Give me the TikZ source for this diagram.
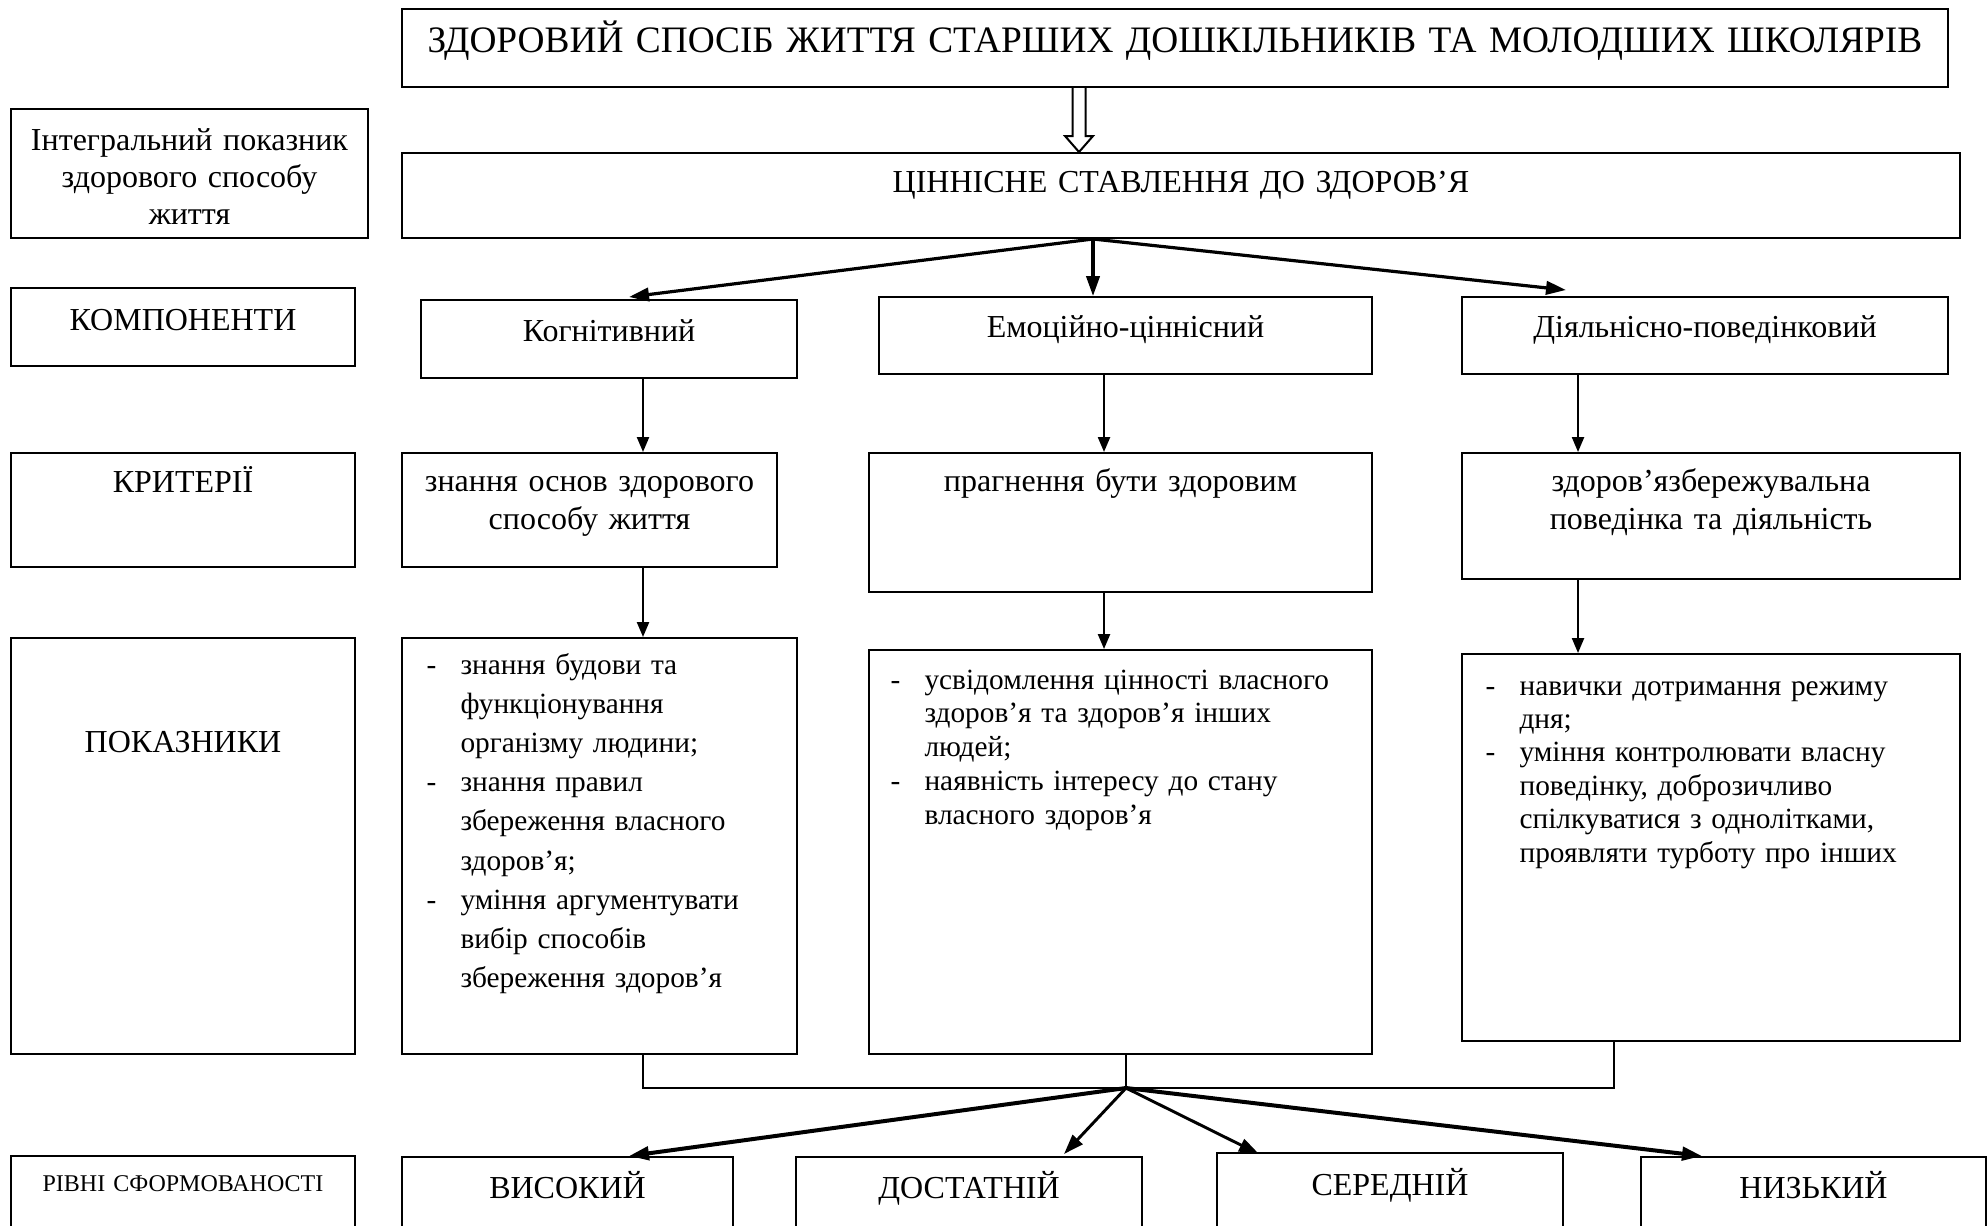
\documentclass[tikz,border=0pt]{standalone}
\usepackage{fontspec}
\setmainfont{Liberation Serif}
\usetikzlibrary{arrows.meta,calc,fit}

\newcommand{\itm}{\makebox[12.75pt][l]{-}}
\newcommand{\cnt}{\hspace*{12.75pt}}

\begin{document}
\begin{tikzpicture}[
  x=0.375pt, y=-0.375pt,
  box/.style={draw=black, line width=0.75pt, inner sep=0pt},
  txt/.style={anchor=base, inner sep=0pt, align=center,
    font=\fontsize{12}{14.25}\selectfont},
  head/.style={txt, font=\fontsize{14}{16}\selectfont, text width=590pt},
  small/.style={txt, font=\fontsize{9}{11}\selectfont},
  lst/.style={anchor=base west, inner sep=0pt, align=left},
  fan/.style={-{Triangle[length=7.5pt, width=5pt]}, line width=1.2pt},
  fanthick/.style={fan, line width=1.5pt},
  down/.style={-{Triangle[length=5.6pt, width=4.5pt]}, line width=0.8pt},
  gather/.style={line width=0.6pt},
  hollow/.style={draw=black, line width=0.75pt, fill=white, line join=miter}
]
  \useasboundingbox (0,0) rectangle (1988,1225);
  \clip (0,0) rectangle (1988,1225);

  % top boxes
  \node[box, fit={(402,9) (1948,87)}] (title) {};
  \node[head] (title-t) at ($(title.north)+(0,44)$)
    {ЗДОРОВИЙ СПОСІБ ЖИТТЯ СТАРШИХ ДОШКІЛЬНИКІВ ТА МОЛОДШИХ ШКОЛЯРІВ};
  \node[box, fit={(402,153) (1960,238)}] (value) {};
  \node[txt, text width=500pt] (value-t) at ($(value.north)+(0,40)$)
    {ЦІННІСНЕ СТАВЛЕННЯ ДО ЗДОРОВ’Я};

  % left column
  \node[box, fit={(11,109) (368,238)}] (integral) {};
  \node[txt, font=\fontsize{12}{13.8}\selectfont, text width=130pt] (integral-t)
    at ($(integral.north)+(0,42.5)$) {Інтегральний показник\\здорового способу\\життя};
  \node[box, fit={(11,288) (355,366)}] (complbl) {};
  \node[txt, text width=125pt] (complbl-t) at ($(complbl.north)+(0,43)$) {КОМПОНЕНТИ};
  \node[box, fit={(11,453) (355,567)}] (critlbl) {};
  \node[txt, text width=125pt] (critlbl-t) at ($(critlbl.north)+(0,40)$) {КРИТЕРІЇ};
  \node[box, fit={(11,638) (355,1054)}] (indlbl) {};
  \node[txt, text width=125pt] (indlbl-t) at ($(indlbl.north)+(0,115)$) {ПОКАЗНИКИ};
  \node[box, fit={(11,1156) (355,1260)}] (lvllbl) {};
  \node[small, text width=125pt] (lvllbl-t) at ($(lvllbl.north)+(0,36)$) {РІВНІ СФОРМОВАНОСТІ};

  % components
  \node[box, fit={(421,300) (797,378)}] (cog) {};
  \node[txt, text width=135pt] (cog-t) at ($(cog.north)+(0,42)$) {Когнітивний};
  \node[box, fit={(879,297) (1372,374)}] (emo) {};
  \node[txt, text width=180pt] (emo-t) at ($(emo.north)+(0,41)$) {Емоційно-ціннісний};
  \node[box, fit={(1462,297) (1948,374)}] (act) {};
  \node[txt, text width=180pt] (act-t) at ($(act.north)+(0,41)$) {Діяльнісно-поведінковий};

  % criteria
  \node[box, fit={(402,453) (777,567)}] (crit1) {};
  \node[txt, text width=138pt] (crit1-t) at ($(crit1.north)+(0,39)$)
    {знання основ здорового\\способу життя};
  \node[box, fit={(869,453) (1372,592)}] (crit2) {};
  \node[txt, text width=185pt] (crit2-t) at ($(crit2.north)+(0,39)$) {прагнення бути здоровим};
  \node[box, fit={(1462,453) (1960,579)}] (crit3) {};
  \node[txt, text width=185pt] (crit3-t) at ($(crit3.north)+(0,39)$)
    {здоров’язбережувальна\\поведінка та діяльність};

  % indicators
  \node[box, fit={(402,638) (797,1054)}] (ind1) {};
  \node[lst, font=\fontsize{11}{14.7}\selectfont, text width=140pt] (ind1-t)
    at ($(ind1.north west)+(25,37)$)
    {\itm знання будови та\\ \cnt функціонування\\ \cnt організму людини;\\
     \itm знання правил\\ \cnt збереження власного\\ \cnt здоров’я;\\
     \itm уміння аргументувати\\ \cnt вибір способів\\ \cnt збереження здоров’я};
  \node[box, fit={(869,650) (1372,1054)}] (ind2) {};
  \node[lst, font=\fontsize{11}{12.7}\selectfont, text width=180pt] (ind2-t)
    at ($(ind2.north west)+(22,40)$)
    {\itm усвідомлення цінності власного\\ \cnt здоров’я та здоров’я інших\\ \cnt людей;\\
     \itm наявність інтересу до стану\\ \cnt власного здоров’я};
  \node[box, fit={(1462,654) (1960,1041)}] (ind3) {};
  \node[lst, font=\fontsize{11}{12.55}\selectfont, text width=180pt] (ind3-t)
    at ($(ind3.north west)+(24,42)$)
    {\itm навички дотримання режиму\\ \cnt дня;\\
     \itm уміння контролювати власну\\ \cnt поведінку, доброзичливо\\
     \cnt спілкуватися з однолітками,\\ \cnt проявляти турботу про інших};

  % levels
  \node[box, fit={(402,1157) (733,1260)}] (high) {};
  \node[txt, text width=120pt] (high-t) at ($(high.north)+(0,42)$) {ВИСОКИЙ};
  \node[box, fit={(796,1157) (1142,1260)}] (suff) {};
  \node[txt, text width=125pt] (suff-t) at ($(suff.north)+(0,42)$) {ДОСТАТНІЙ};
  \node[box, fit={(1217,1153) (1563,1260)}] (mid) {};
  \node[txt, text width=125pt] (mid-t) at ($(mid.north)+(0,43)$) {СЕРЕДНІЙ};
  \node[box, fit={(1641,1157) (1986,1260)}] (low) {};
  \node[txt, text width=125pt] (low-t) at ($(low.north)+(0,42)$) {НИЗЬКИЙ};

  % hollow arrow
  \coordinate (dbl) at (title.south -| 1079,0);
  \draw[hollow] ($(dbl)+(-6.5,0)$) -- ($(dbl |- value.north)+(-6.5,-16)$)
    -- ($(dbl |- value.north)+(-14,-16)$) -- (dbl |- value.north)
    -- ($(dbl |- value.north)+(14,-16)$) -- ($(dbl |- value.north)+(6.5,-16)$)
    -- ($(dbl)+(6.5,0)$);

  % fan to components
  \coordinate (fan) at (value.south -| 1093,0);
  \draw[fan] (fan) -- ($(cog.north west)+(209,-2)$);
  \draw[fan] (fan) -- (fan |- emo.north);
  \draw[fan] (fan) -- ($(act.north west)+(105,-6)$);

  % columns
  \draw[down] (cog.south -| 643,0) -- (crit1.north -| 643,0);
  \draw[down] (crit1.south -| 643,0) -- (ind1.north -| 643,0);
  \draw[down] (emo.south -| 1104,0) -- (crit2.north -| 1104,0);
  \draw[down] (crit2.south -| 1104,0) -- (ind2.north -| 1104,0);
  \draw[down] (act.south -| 1578,0) -- (crit3.north -| 1578,0);
  \draw[down] (crit3.south -| 1578,0) -- (ind3.north -| 1578,0);

  % gather to levels
  \coordinate (hub) at (1126,1088);
  \draw[gather] (ind1.south -| 643,0) |- (hub);
  \draw[gather] (ind3.south -| 1614,0) |- (hub);
  \draw[gather] (ind2.south -| hub) -- (hub);
  \draw[fanthick] (hub) -- ($(high.north west)+(228,0)$);
  \draw[fan, line width=1.1pt] (hub) -- ($(suff.north west)+(269,-2)$);
  \draw[fan, line width=1.1pt] (hub) -- ($(mid.north west)+(43,2)$);
  \draw[fanthick] (hub) -- ($(low.north west)+(62,0)$);
\end{tikzpicture}
\end{document}
